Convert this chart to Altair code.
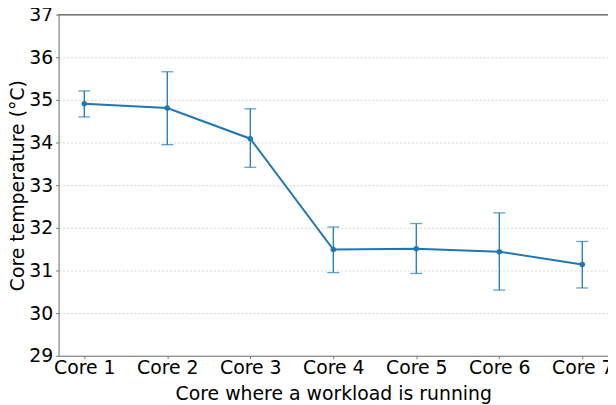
import altair as alt
import pandas as pd

cores = ["Core 1", "Core 2", "Core 3", "Core 4", "Core 5", "Core 6", "Core 7"]
mean_temp = [34.91, 34.81, 34.09, 31.49, 31.51, 31.44, 31.14]
upper_temp = [35.21, 35.66, 34.79, 32.02, 32.10, 32.35, 31.68]
lower_temp = [34.60, 33.95, 33.42, 30.95, 30.93, 30.54, 30.59]
y_ticks = [29, 30, 31, 32, 33, 34, 35, 36, 37]

df = pd.DataFrame({"core": cores, "mean": mean_temp, "upper": upper_temp, "lower": lower_temp})

color = "#1f77b4"
font = "DejaVu Sans"
fs = 19

x = alt.X("core:O", sort=cores, title="Core where a workload is running",
          scale=alt.Scale(type="point", padding=0.31),
          axis=alt.Axis(labelAngle=0, labelFontSize=fs, titleFontSize=fs, labelFont=font,
                        titleFont=font, labelColor="black", titleColor="black",
                        titleFontWeight="normal",
                        domainColor="#777777", tickColor="#777777", tickSize=3,
                        titlePadding=7, grid=False, labelPadding=0))
yscale = alt.Scale(domain=[29, 37], nice=False, zero=False)
yaxis = alt.Axis(values=y_ticks, labelFontSize=fs, titleFontSize=fs, labelFont=font,
                 titleFont=font, labelColor="black", titleColor="black",
                 titleFontWeight="normal",
                 domainColor="#777777", tickColor="#777777", tickSize=3,
                 grid=True, gridColor="#cccccc", gridDash=[2, 2], gridWidth=0.8,
                 titlePadding=1, labelPadding=3)

base = alt.Chart(df)

rules = base.mark_rule(color=color, strokeWidth=1.3).encode(
    x=x, y=alt.Y("lower:Q", scale=yscale, axis=yaxis, title="Core temperature (°C)"), y2="upper:Q")
caps_up = base.mark_tick(color=color, orient="horizontal", size=12, thickness=1.3).encode(
    x=x, y=alt.Y("upper:Q", scale=yscale))
caps_lo = base.mark_tick(color=color, orient="horizontal", size=12, thickness=1.3).encode(
    x=x, y=alt.Y("lower:Q", scale=yscale))
line = base.mark_line(color=color, strokeWidth=2).encode(x=x, y=alt.Y("mean:Q", scale=yscale))
pts = base.mark_point(color=color, filled=True, size=30, opacity=1).encode(
    x=x, y=alt.Y("mean:Q", scale=yscale))
top_frame = alt.Chart().mark_rule(color="#777777", strokeWidth=1).encode(
    y=alt.datum(y_ticks[-1], scale=yscale))

chart = alt.layer(rules, caps_up, caps_lo, line, pts, top_frame, data=df).properties(
    width=554, height=344,
    autosize=alt.AutoSizeParams(type="none"),
    padding={"left": 51, "top": 5, "right": 0, "bottom": 48},
    background="white",
).configure_view(stroke="#e3e3e3", strokeWidth=1)

chart.save("out.html", embed_options={"renderer": "svg", "actions": False})
